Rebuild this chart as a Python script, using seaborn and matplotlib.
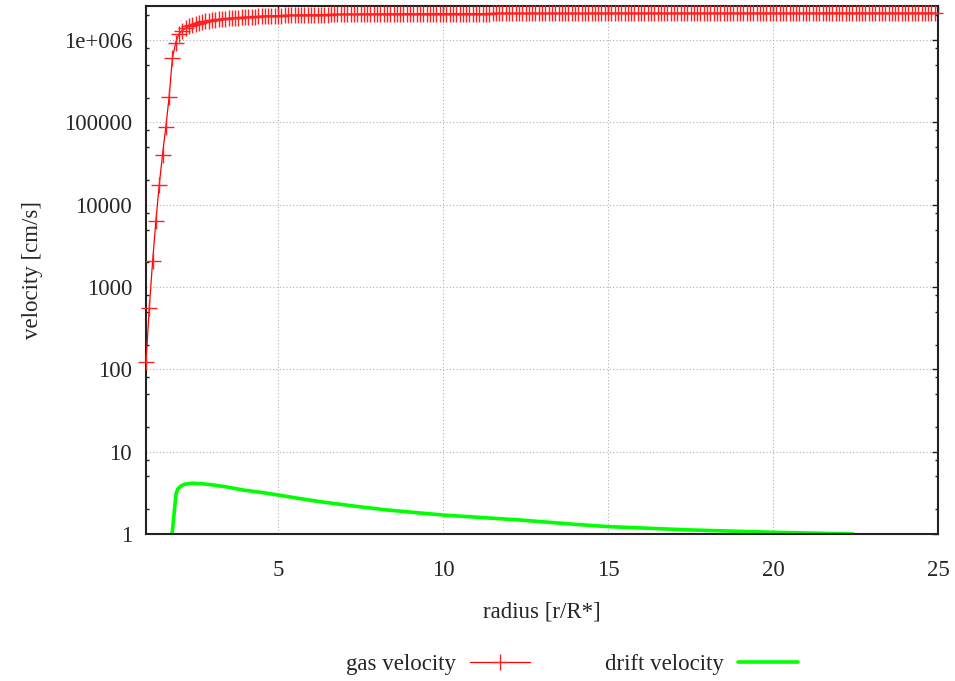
import matplotlib
matplotlib.use("Agg")
import matplotlib.pyplot as plt
import matplotlib.ticker as mticker
import seaborn as sns
import pandas as pd

# ---------------- data ----------------
radius_gas = [
    1.0, 1.1, 1.2, 1.3, 1.4, 1.5, 1.6, 1.7, 1.8, 1.9,
    2.0, 2.1, 2.2, 2.3, 2.4, 2.5, 2.6, 2.7, 2.8, 2.9,
    3.0, 3.1, 3.2, 3.3, 3.4, 3.5, 3.6, 3.7, 3.8, 3.9,
    4.0, 4.1, 4.2, 4.3, 4.4, 4.5, 4.6, 4.7, 4.8, 4.9,
    5.0, 5.1, 5.2, 5.3, 5.4, 5.5, 5.6, 5.7, 5.8, 5.9,
    6.0, 6.1, 6.2, 6.3, 6.4, 6.5, 6.6, 6.7, 6.8, 6.9,
    7.0, 7.1, 7.2, 7.3, 7.4, 7.5, 7.6, 7.7, 7.8, 7.9,
    8.0, 8.1, 8.2, 8.3, 8.4, 8.5, 8.6, 8.7, 8.8, 8.9,
    9.0, 9.1, 9.2, 9.3, 9.4, 9.5, 9.6, 9.7, 9.8, 9.9,
    10.0, 10.1, 10.2, 10.3, 10.4, 10.5, 10.6, 10.7, 10.8, 10.9,
    11.0, 11.1, 11.2, 11.3, 11.4, 11.5, 11.6, 11.7, 11.8, 11.9,
    12.0, 12.1, 12.2, 12.3, 12.4, 12.5, 12.6, 12.7, 12.8, 12.9,
    13.0, 13.1, 13.2, 13.3, 13.4, 13.5, 13.6, 13.7, 13.8, 13.9,
    14.0, 14.1, 14.2, 14.3, 14.4, 14.5, 14.6, 14.7, 14.8, 14.9,
    15.0, 15.1, 15.2, 15.3, 15.4, 15.5, 15.6, 15.7, 15.8, 15.9,
    16.0, 16.1, 16.2, 16.3, 16.4, 16.5, 16.6, 16.7, 16.8, 16.9,
    17.0, 17.1, 17.2, 17.3, 17.4, 17.5, 17.6, 17.7, 17.8, 17.9,
    18.0, 18.1, 18.2, 18.3, 18.4, 18.5, 18.6, 18.7, 18.8, 18.9,
    19.0, 19.1, 19.2, 19.3, 19.4, 19.5, 19.6, 19.7, 19.8, 19.9,
    20.0, 20.1, 20.2, 20.3, 20.4, 20.5, 20.6, 20.7, 20.8, 20.9,
    21.0, 21.1, 21.2, 21.3, 21.4, 21.5, 21.6, 21.7, 21.8, 21.9,
    22.0, 22.1, 22.2, 22.3, 22.4, 22.5, 22.6, 22.7, 22.8, 22.9,
    23.0, 23.1, 23.2, 23.3, 23.4, 23.5, 23.6, 23.7, 23.8, 23.9,
    24.0, 24.1, 24.2, 24.3, 24.4, 24.5, 24.6, 24.7, 24.8, 24.9,
]

# steep rise of the gas velocity, r = 1.0 ... 1.9  [cm/s]
gas_rise = [123, 560, 2060, 6400, 17300, 40600, 87600, 203000, 605000, 935000]

# plateau of the gas velocity, r = 2.0 ... 24.9  [10^6 cm/s]
gas_plateau = [
    1.20, 1.31, 1.39, 1.47, 1.53, 1.58, 1.62, 1.66, 1.69, 1.72,
    1.75, 1.77, 1.79, 1.81, 1.83, 1.84, 1.86, 1.87, 1.88, 1.89,
    1.90, 1.91, 1.92, 1.93, 1.94, 1.95, 1.96, 1.97, 1.97, 1.98,
    1.99, 1.99, 2.00, 2.00, 2.01, 2.01, 2.02, 2.02, 2.02, 2.03,
    2.03, 2.03, 2.04, 2.04, 2.04, 2.04, 2.05, 2.05, 2.05, 2.05,
    2.06, 2.06, 2.06, 2.06, 2.06, 2.07, 2.07, 2.07, 2.07, 2.07,
    2.07, 2.08, 2.08, 2.08, 2.08, 2.08, 2.08, 2.08, 2.09, 2.09,
    2.09, 2.09, 2.09, 2.09, 2.09, 2.09, 2.09, 2.10, 2.10, 2.10,
    2.10, 2.10, 2.10, 2.10, 2.10, 2.10, 2.10, 2.10, 2.10, 2.10,
    2.10, 2.10, 2.10, 2.10, 2.10, 2.11, 2.11, 2.11, 2.11, 2.11,
    2.11, 2.11, 2.11, 2.11, 2.11, 2.11, 2.11, 2.11, 2.11, 2.11,
    2.11, 2.11, 2.11, 2.11, 2.11, 2.11, 2.11, 2.11, 2.11, 2.11,
    2.11, 2.11, 2.11, 2.11, 2.11, 2.12, 2.12, 2.12, 2.12, 2.12,
    2.12, 2.12, 2.12, 2.12, 2.12, 2.12, 2.12, 2.12, 2.12, 2.12,
    2.12, 2.12, 2.12, 2.12, 2.12, 2.12, 2.12, 2.12, 2.12, 2.12,
    2.12, 2.12, 2.12, 2.12, 2.12, 2.12, 2.12, 2.12, 2.12, 2.12,
    2.12, 2.12, 2.12, 2.12, 2.12, 2.12, 2.12, 2.12, 2.12, 2.12,
    2.12, 2.12, 2.12, 2.12, 2.12, 2.12, 2.12, 2.12, 2.12, 2.12,
    2.12, 2.12, 2.12, 2.12, 2.12, 2.12, 2.12, 2.12, 2.12, 2.12,
    2.12, 2.12, 2.12, 2.12, 2.12, 2.13, 2.13, 2.13, 2.13, 2.13,
    2.13, 2.13, 2.13, 2.13, 2.13, 2.13, 2.13, 2.13, 2.13, 2.13,
    2.13, 2.13, 2.13, 2.13, 2.13, 2.13, 2.13, 2.13, 2.13, 2.13,
    2.13, 2.13, 2.13, 2.13, 2.13, 2.13, 2.13, 2.13, 2.13, 2.13,
]

radius_drift = [1.79, 1.91, 1.96, 2.03, 2.15, 2.30, 2.43, 2.70, 3.04, 3.50,
                3.95, 4.50, 5.00, 5.60, 6.27, 7.28, 8.29, 10.0, 12.33, 14.0,
                15.0, 17.48, 20.0, 22.43]
drift_velocity = [1.0, 3.06, 3.50, 3.76, 4.00, 4.10, 4.13, 4.08, 3.94, 3.70,
                  3.42, 3.20, 2.98, 2.72, 2.47, 2.19, 1.96, 1.70, 1.48, 1.31,
                  1.23, 1.12, 1.05, 1.0]

y_ticks = [1, 10, 100, 1000, 10000, 100000, 1000000]
y_tick_labels = ["1", "10", "100", "1000", "10000", "100000", "1e+006"]
x_ticks = [5, 10, 15, 20, 25]

gas_velocity = gas_rise + [v * 1e6 for v in gas_plateau]
gas_df = pd.DataFrame({"radius": radius_gas, "velocity": gas_velocity})
drift_df = pd.DataFrame({"radius": radius_drift, "velocity": drift_velocity})

# ---------------- style ----------------
sns.set_style("white")
plt.rcParams["font.family"] = ["Liberation Serif", "DejaVu Serif"]
FS = 16.5
plt.rcParams["font.size"] = FS

fig = plt.figure(figsize=(9.55, 6.81), dpi=100)
ax = fig.add_axes([146 / 955, 1 - 534 / 681, (938 - 146) / 955, (534 - 6) / 681])

sns.lineplot(data=gas_df, x="radius", y="velocity", ax=ax, color="#ff0000",
             linewidth=0.9, marker="+", markersize=12, markeredgewidth=1.0,
             markeredgecolor="#ff2020", label="gas velocity", sort=False,
             estimator=None, clip_on=False, zorder=3)
sns.lineplot(data=drift_df, x="radius", y="velocity", ax=ax, color="#00ff00",
             linewidth=2.6, label="drift velocity", sort=False, estimator=None)

ax.set_yscale("log")
ax.set_xlim(1, 25)
ax.set_ylim(1, 2.6e6)

ax.yaxis.set_major_locator(mticker.FixedLocator(y_ticks))
ax.yaxis.set_major_formatter(mticker.FixedFormatter(y_tick_labels))
ax.yaxis.set_minor_locator(mticker.LogLocator(base=10, subs=[2, 5, 8], numticks=20))
ax.yaxis.set_minor_formatter(mticker.NullFormatter())
ax.xaxis.set_major_locator(mticker.FixedLocator(x_ticks))
ax.xaxis.set_minor_locator(mticker.NullLocator())

ax.tick_params(axis="both", which="major", direction="in", length=4.5, width=1,
               top=True, right=True, labelsize=FS, color="#222222")
ax.tick_params(axis="x", which="major", pad=19)
ax.tick_params(axis="y", which="major", pad=10)
ax.tick_params(axis="y", which="minor", direction="in", length=2.2, width=1,
               left=True, right=True, color="#222222")

ax.grid(True, which="major", color="#b0b0b0", linestyle=(0, (1, 2)), linewidth=0.8)
for sp in ax.spines.values():
    sp.set_linewidth(1.5)
    sp.set_color("#222222")

ax.set_xlabel("radius [r/R*]", fontsize=FS)
ax.set_ylabel("velocity [cm/s]", fontsize=FS)
ax.yaxis.set_label_coords(-0.130, 0.5)
ax.xaxis.set_label_coords(0.5, -0.127)

ax.legend(loc="center", bbox_to_anchor=(572 / 955, 1 - 664 / 681),
          bbox_transform=fig.transFigure, ncol=2, frameon=False,
          markerfirst=False, handlelength=2.6, handletextpad=0.6,
          columnspacing=3.3, numpoints=1, fontsize=FS)

fig.savefig("out.png", dpi=100)
